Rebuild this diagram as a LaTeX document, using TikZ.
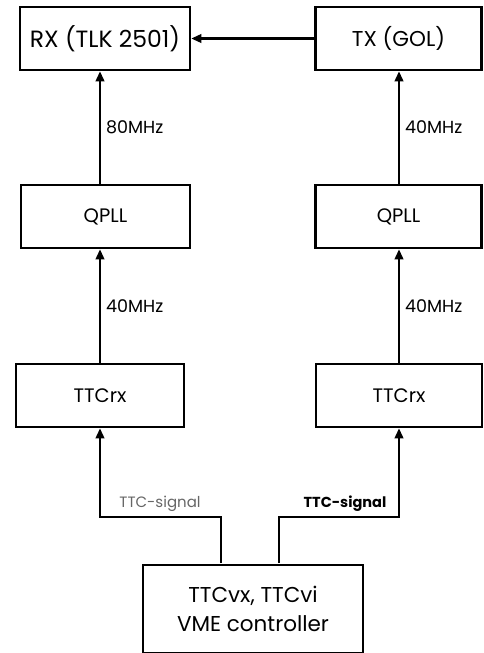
\documentclass[tikz,border=0pt]{standalone}
\usepackage{fontspec}
\setmainfont{Poppins}
\usetikzlibrary{arrows.meta}
\begin{document}
\begin{tikzpicture}[x=1pt,y=-1pt,
  blk/.style={draw,line width=2.6pt,rectangle,inner sep=0pt,font=\fontsize{19.5}{22}\selectfont},
  conn/.style={line width=2.2pt},
  arr/.style={conn,-{Triangle[length=10pt,width=8.5pt]}},
  freq/.style={anchor=west,inner sep=0pt,font=\fontsize{17.5}{20}\selectfont}]
\useasboundingbox (0,0) rectangle (483,653);
\node[blk,minimum width=170pt,minimum height=63pt,font=\fontsize{23.5}{26}\selectfont] (rx) at (105,38.5) {RX (TLK 2501)};
\node[blk,minimum width=166pt,minimum height=63pt,font=\fontsize{21.5}{24}\selectfont] (tx) at (398.5,38.5) {TX (GOL)};
\node[blk,minimum width=169pt,minimum height=63pt] (qpllL) at (105.5,216.5) {QPLL};
\node[blk,minimum width=166pt,minimum height=63pt] (qpllR) at (398.5,216.5) {QPLL};
\node[blk,minimum width=168pt,minimum height=63pt] (ttcL) at (100,395.5) {TTCrx};
\node[blk,minimum width=166pt,minimum height=63pt] (ttcR) at (399,395.5) {TTCrx};
\node[blk,minimum width=220pt,minimum height=88pt,align=center,font=\fontsize{21.5}{29}\selectfont] (vme) at (253,609) {TTCvx, TTCvi\\VME controller};
\coordinate (jL) at (100,517);
\coordinate (jR) at (399,517);
\coordinate (vL) at (221,563);
\coordinate (vR) at (279,563);
\draw[arr] (tx.west) -- (rx.east);
\draw[arr] (qpllL.north -| ttcL.north) -- (rx.south -| ttcL.north) node[freq,pos=0.5,xshift=5pt] (f1) {80MHz};
\draw[arr] (qpllR.north -| ttcR.north) -- (tx.south -| ttcR.north) node[freq,pos=0.5,xshift=5pt] (f2) {40MHz};
\draw[arr] (ttcL.north) -- (qpllL.south -| ttcL.north) node[freq,pos=0.5,xshift=5pt] (f3) {40MHz};
\draw[arr] (ttcR.north) -- (qpllR.south -| ttcR.north) node[freq,pos=0.5,xshift=5pt] (f4) {40MHz};
\draw[arr] (vL) -- (vL |- jL) -- (jL) -- (ttcL.south);
\draw[arr] (vR) -- (vR |- jR) -- (jR) -- (ttcR.south);
\node[anchor=south,inner sep=0pt,text=black!60,font=\fontsize{15}{17}\selectfont] (s1) at (160,512) {TTC-signal};
\node[anchor=south,inner sep=0pt,font=\bfseries\fontsize{14.5}{17}\selectfont] (s2) at (345,512) {TTC-signal};
\end{tikzpicture}
\end{document}
